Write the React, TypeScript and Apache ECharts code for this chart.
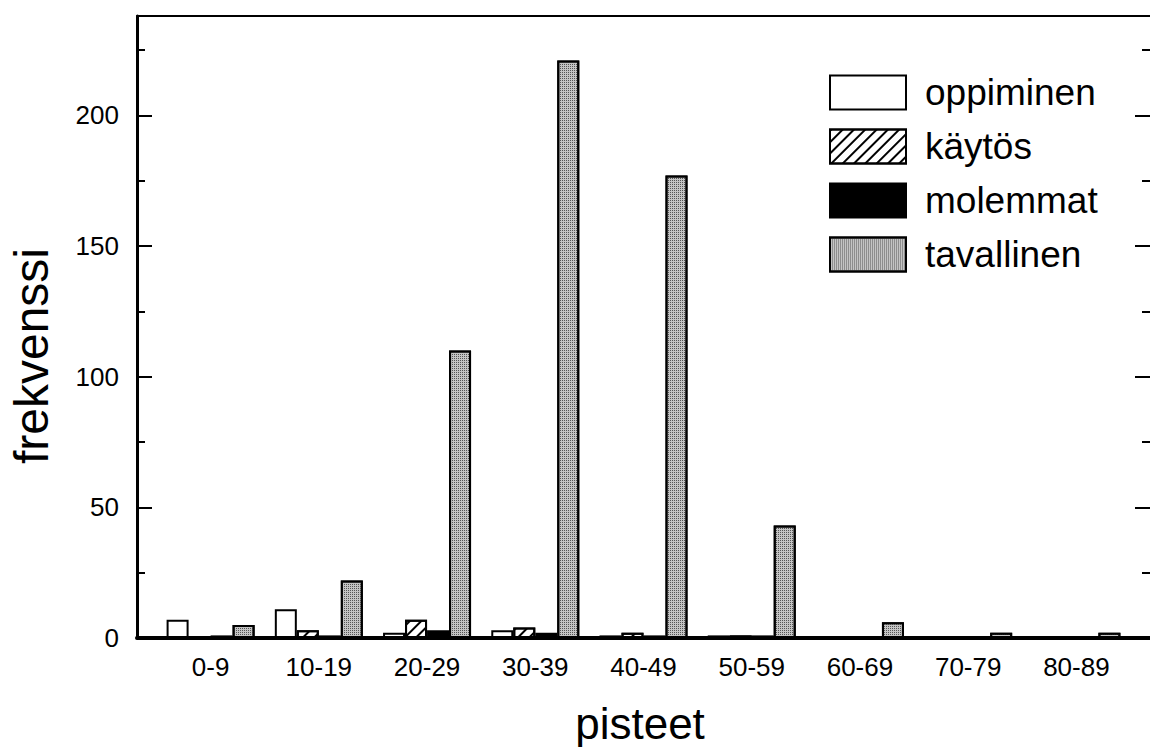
import React, { useEffect, useRef } from "react";
import * as echarts from "echarts";

const categories = ["0-9", "10-19", "20-29", "30-39", "40-49", "50-59", "60-69", "70-79", "80-89"];
const oppiminen = [7, 11, 2, 3, 1, 1, 0, 0, 0];
const kaytos = [0, 3, 7, 4, 2, 1, 0, 0, 0];
const molemmat = [1, 1, 3, 2, 1, 1, 0, 0, 0];
const tavallinen = [5, 22, 110, 221, 177, 43, 6, 2, 2];
const seriesNames = ["oppiminen", "käytös", "molemmat", "tavallinen"];
const yMax = 238;

const FONT = "'Liberation Sans', Arial, Helvetica, sans-serif";

export default function App() {
  const ref = useRef<HTMLDivElement>(null);
  useEffect(() => {
    document.body.style.margin = "0";
    const chart = echarts.init(ref.current!, null, { renderer: "svg" });
    const toPairs = (arr: number[]) => arr.map((v, i) => [i, v]);
    const baseItem = { borderColor: "#000", borderWidth: 2 };
    const hatch = {
      symbol: "rect",
      symbolSize: 1,
      dashArrayX: [1, 0],
      dashArrayY: [2, 6],
      rotation: -Math.PI / 4,
      color: "#000",
    };
    const stipple = {
      symbol: "rect",
      symbolSize: 1,
      dashArrayX: [1, 1],
      dashArrayY: [1, 1],
      rotation: 0,
      color: "#555",
    };
    const yAxisCommon = {
      type: "value",
      min: 0,
      max: yMax,
      interval: 50,
      splitLine: { show: false },
      minorSplitLine: { show: false },
      axisTick: { show: true, inside: true, length: 15, lineStyle: { color: "#000", width: 2 } },
      minorTick: { show: true, splitNumber: 2, length: 8, lineStyle: { color: "#000", width: 2 } },
    };
    chart.setOption({
      animation: false,
      backgroundColor: "#fff",
      textStyle: { fontFamily: FONT },
      grid: {
        left: 137,
        top: 16,
        width: 1015,
        height: 622,
        show: false,
      },
      legend: {
        orient: "vertical",
        left: 824,
        top: 69,
        itemWidth: 76,
        itemHeight: 34,
        itemGap: 17,
        icon: "rect",
        data: seriesNames,
        textStyle: { fontSize: 37, color: "#000", fontFamily: FONT, padding: [0, 0, 0, 14] },
      },
      xAxis: [
        {
          type: "value",
          min: -0.68,
          max: 8.68,
          splitLine: { show: false },
          axisLine: { show: true, onZero: false, lineStyle: { color: "#000", width: 4 } },
          axisTick: { show: false },
          axisLabel: {
            customValues: categories.map((_, i) => i),
            formatter: (v: number) => categories[Math.round(v)] ?? "",
            fontSize: 26,
            color: "#000",
            margin: 16,
            fontFamily: FONT,
          },
        },
        {
          type: "value",
          position: "top",
          min: -0.68,
          max: 8.68,
          splitLine: { show: false },
          axisLine: { show: true, onZero: false, lineStyle: { color: "#000", width: 2 } },
          axisTick: { show: false },
          axisLabel: { show: false },
        },
      ],
      yAxis: [
        {
          ...yAxisCommon,
          position: "left",
          axisLine: { show: true, onZero: false, lineStyle: { color: "#000", width: 3 } },
          axisLabel: { fontSize: 26, color: "#000", margin: 18, showMaxLabel: false, fontFamily: FONT },
        },
        {
          ...yAxisCommon,
          position: "right",
          axisLine: { show: false, onZero: false },
          axisLabel: { show: false },
        },
      ],
      graphic: [
        {
          type: "text",
          x: 31,
          y: 356,
          rotation: Math.PI / 2,
          style: {
            text: "frekvenssi",
            fontSize: 48,
            fontFamily: FONT,
            fill: "#000",
            align: "center",
            verticalAlign: "middle",
          },
        },
        {
          type: "text",
          x: 640,
          y: 723,
          style: {
            text: "pisteet",
            fontSize: 44,
            fontFamily: FONT,
            fill: "#000",
            align: "center",
            verticalAlign: "middle",
          },
        },
      ],
      series: [
        {
          name: seriesNames[0],
          type: "bar",
          barWidth: 22,
          barGap: "0%",
          data: toPairs(oppiminen),
          itemStyle: { ...baseItem, color: "#fff" },
        },
        {
          name: seriesNames[1],
          type: "bar",
          barWidth: 22,
          barGap: "0%",
          data: toPairs(kaytos),
          itemStyle: { ...baseItem, color: "#fff", decal: hatch },
        },
        {
          name: seriesNames[2],
          type: "bar",
          barWidth: 22,
          barGap: "0%",
          data: toPairs(molemmat),
          itemStyle: { ...baseItem, color: "#000" },
        },
        {
          name: seriesNames[3],
          type: "bar",
          barWidth: 22,
          barGap: "0%",
          data: toPairs(tavallinen),
          itemStyle: { ...baseItem, color: "#c4c4c4", decal: stipple },
        },
      ],
    });
    return () => chart.dispose();
  }, []);
  return <div ref={ref} style={{ width: 1150, height: 747 }} />;
}
